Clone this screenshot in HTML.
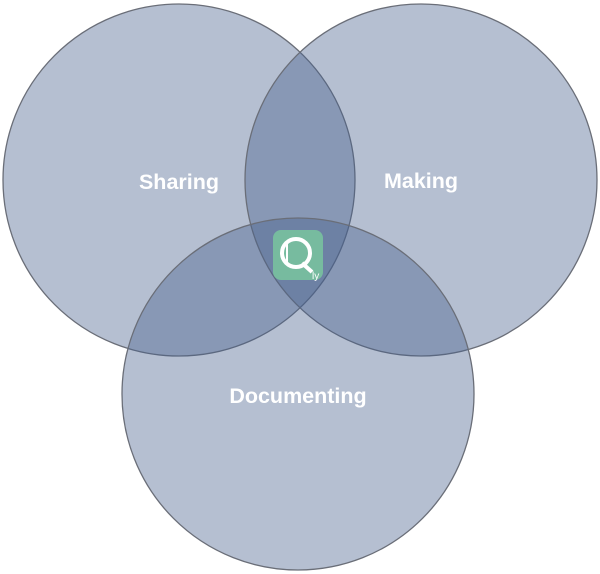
<!DOCTYPE html>
<html><head><meta charset="utf-8"><style>
html,body{margin:0;padding:0;background:#fff;width:600px;height:574px;overflow:hidden}
</style></head><body>
<svg width="600" height="574" viewBox="0 0 600 574" xmlns="http://www.w3.org/2000/svg">
<g fill="rgb(70,95,140)" fill-opacity="0.4" stroke="#6a6e78" stroke-width="1.3">
<circle cx="179" cy="180" r="176"/>
<circle cx="421" cy="180" r="176"/>
<circle cx="298" cy="394" r="176"/>
</g>
<g font-family="Liberation Sans, sans-serif" font-weight="bold" font-size="21.5" fill="#fff" text-anchor="middle">
<text x="179" y="189">Sharing</text>
<text x="421" y="188">Making</text>
<text x="298" y="403">Documenting</text>
</g>
<rect x="273" y="230" width="50" height="50" rx="8" fill="#77bb9f"/>
<circle cx="296" cy="253" r="14" fill="none" stroke="#fff" stroke-width="4"/>
<line x1="287" y1="242" x2="287" y2="265" stroke="#fff" stroke-width="2"/>
<line x1="302" y1="263" x2="312" y2="272" stroke="#fff" stroke-width="4"/>
<text x="312" y="279" font-family="Liberation Sans, sans-serif" font-size="10" fill="#fff">ly</text>
</svg>
</body></html>
